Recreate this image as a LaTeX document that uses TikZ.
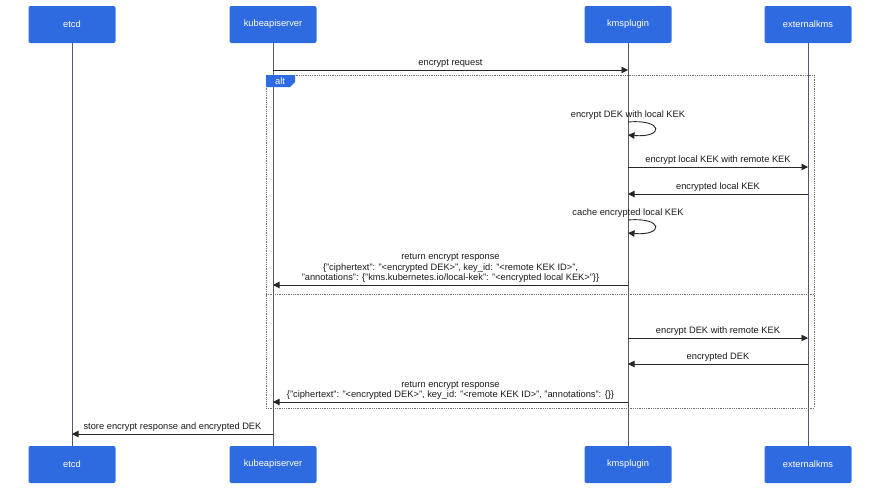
\documentclass[tikz,border=0pt]{standalone}
\usepackage{fontspec}
\setmainfont{Liberation Sans}
\usetikzlibrary{arrows.meta}
\definecolor{actorblue}{HTML}{2F6BE0}
\definecolor{lifegray}{HTML}{4E5B6C}
\definecolor{framegray}{HTML}{707070}
\tikzset{
  actor/.style={fill=actorblue, rounded corners=2pt, minimum width=87pt, minimum height=37pt, text=white, inner sep=0pt},
  life/.style={lifegray, line width=1pt},
  msg/.style={line width=0.9pt, black!85, -{Triangle[length=6.5pt,width=6.5pt]}},
  lbl/.style={above=1pt, inner sep=1pt, black!90, align=center},
  altframe/.style={framegray, densely dotted, line width=0.8pt}
}

\begin{document}
\begin{tikzpicture}[x=1pt, y=-1pt, font=\fontsize{9.3}{10.5}\selectfont]
\useasboundingbox (0,0) rectangle (880,490);
% participants
\node[actor] (etcdT) at (72,24.5) {etcd};
\node[actor] (apiT) at (273,24.5) {kubeapiserver};
\node[actor] (kmsT) at (628,24.5) {kmsplugin};
\node[actor] (extT) at (808,24.5) {externalkms};
\node[actor] (etcdB) at (72,464.5) {etcd};
\node[actor] (apiB) at (273,464.5) {kubeapiserver};
\node[actor] (kmsB) at (628,464.5) {kmsplugin};
\node[actor] (extB) at (808,464.5) {externalkms};
\draw[life] (etcdT) -- (etcdB);
\draw[life] (apiT) -- (apiB);
\draw[life] (kmsT) -- (kmsB);
\draw[life] (extT) -- (extB);
% alt frame
\draw[altframe] (266,75) rectangle (814,408);
\draw[altframe] (266,294) -- (814,294);
\fill[actorblue] (266,75) -- (295,75) -- (295,82) -- (290,87) -- (266,87) -- cycle;
\node[text=white, inner sep=0pt] (altlbl) at (280,81) {alt};
% message rows
\coordinate (m1) at (0,70);
\coordinate (m2) at (0,122);
\coordinate (m3) at (0,167);
\coordinate (m4) at (0,194);
\coordinate (m5) at (0,220);
\coordinate (m6) at (0,285);
\coordinate (m7) at (0,338);
\coordinate (m8) at (0,364);
\coordinate (m9) at (0,402);
\coordinate (m10) at (0,434);
\draw[msg] (apiT |- m1) -- node[lbl] {encrypt request} (kmsT |- m1);
\node[lbl, above=0pt] (selfa) at (kmsT |- m2) {encrypt DEK with local KEK};
\draw[msg] (kmsT |- m2) .. controls ++(36,-3) and ++(36,3) .. ([yshift=-13pt]kmsT |- m2);
\draw[msg] (kmsT |- m3) -- node[lbl] {encrypt local KEK with remote KEK} (extT |- m3);
\draw[msg] (extT |- m4) -- node[lbl] {encrypted local KEK} (kmsT |- m4);
\node[lbl, above=0pt] (selfb) at (kmsT |- m5) {cache encrypted local KEK};
\draw[msg] (kmsT |- m5) .. controls ++(36,-3) and ++(36,3) .. ([yshift=-13pt]kmsT |- m5);
\draw[msg] (kmsT |- m6) -- node[lbl] {return encrypt response\\\{"ciphertext": "<encrypted DEK>", key\_id: "<remote KEK ID>",\\"annotations": \{"kms.kubernetes.io/local-kek": "<encrypted local KEK>"\}\}} (apiT |- m6);
\draw[msg] (kmsT |- m7) -- node[lbl] {encrypt DEK with remote KEK} (extT |- m7);
\draw[msg] (extT |- m8) -- node[lbl] {encrypted DEK} (kmsT |- m8);
\draw[msg] (kmsT |- m9) -- node[lbl] {return encrypt response\\\{"ciphertext": "<encrypted DEK>", key\_id: "<remote KEK ID>", "annotations": \{\}\}} (apiT |- m9);
\draw[msg] (apiT |- m10) -- node[lbl] {store encrypt response and encrypted DEK} (etcdT |- m10);
\end{tikzpicture}
\end{document}
